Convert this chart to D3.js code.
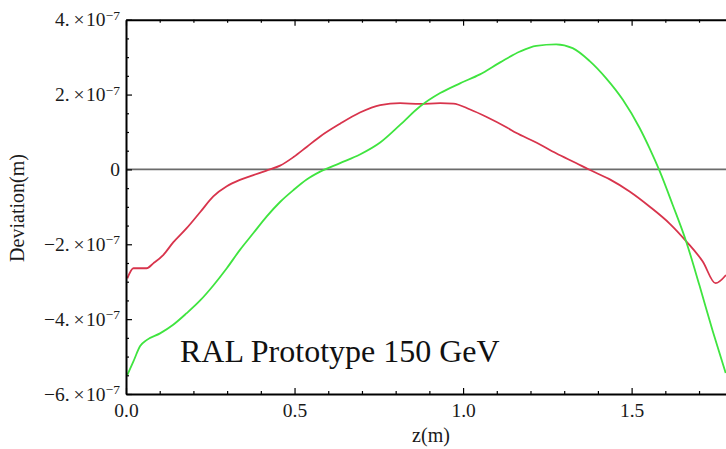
<!DOCTYPE html>
<html><head><meta charset="utf-8">
<script src="https://cdn.jsdelivr.net/npm/d3@7"></script>
<style>body{margin:0;background:#fff}svg{display:block}</style>
</head><body>
<svg id="c" width="726" height="449"></svg>
<script>
// ---- data (deviation in metres, z in metres) ----
const zRed = [0.004,0.022,0.061,0.081,0.111,0.14,0.18,0.221,0.259,0.299,0.338,0.378,0.417,0.457,0.497,0.536,0.576,0.635,0.694,0.754,0.813,0.872,0.932,0.971,1.021,1.07,1.13,1.157,1.217,1.276,1.335,1.375,1.434,1.494,1.553,1.612,1.662,1.711,1.749,1.78];
const devRed = [-2.91e-7,-2.64e-7,-2.64e-7,-2.51e-7,-2.28e-7,-1.95e-7,-1.57e-7,-1.13e-7,-0.72e-7,-0.45e-7,-0.28e-7,-0.15e-7,-0.03e-7,0.10e-7,0.33e-7,0.60e-7,0.88e-7,1.22e-7,1.52e-7,1.72e-7,1.77e-7,1.75e-7,1.77e-7,1.76e-7,1.60e-7,1.40e-7,1.12e-7,0.98e-7,0.72e-7,0.43e-7,0.17e-7,-0.01e-7,-0.26e-7,-0.59e-7,-0.99e-7,-1.44e-7,-1.92e-7,-2.46e-7,-3.04e-7,-2.82e-7];
const zGreen = [0.004,0.022,0.042,0.061,0.101,0.14,0.18,0.22,0.259,0.299,0.338,0.378,0.417,0.457,0.497,0.536,0.576,0.635,0.694,0.754,0.813,0.872,0.932,0.991,1.05,1.11,1.169,1.217,1.276,1.325,1.375,1.424,1.474,1.523,1.553,1.583,1.622,1.662,1.701,1.741,1.779];
const devGreen = [-5.49e-7,-5.13e-7,-4.72e-7,-4.56e-7,-4.38e-7,-4.15e-7,-3.84e-7,-3.50e-7,-3.10e-7,-2.64e-7,-2.15e-7,-1.70e-7,-1.26e-7,-0.87e-7,-0.55e-7,-0.27e-7,-0.06e-7,0.17e-7,0.40e-7,0.72e-7,1.19e-7,1.68e-7,2.04e-7,2.30e-7,2.54e-7,2.86e-7,3.15e-7,3.30e-7,3.34e-7,3.24e-7,2.90e-7,2.44e-7,1.86e-7,1.12e-7,0.57e-7,-0.04e-7,-0.95e-7,-1.93e-7,-3.09e-7,-4.33e-7,-5.44e-7];
const yMajorTicks = [-6e-7,-4e-7,-2e-7,0,2e-7,4e-7];
const yMantissas = ["\u22126.","\u22124.","\u22122.","0","2.","4."];
const xMajorTicks = [0,0.5,1.0,1.5];
const xTickLabels = ["0.0","0.5","1.0","1.5"];
const xLabel = "z(m)";
const yLabel = "Deviation(m)";
const annotation = "RAL Prototype 150 GeV";

// ---- layout ----
const svg = d3.select("#c");
const pLeft = 126, pRight = 726, pTop = 19.7, pBottom = 394;
const x = d3.scaleLinear().domain([0, 1.78]).range([pLeft, pRight]);
const y = d3.scaleLinear().domain([-6e-7, 4e-7]).range([pBottom, pTop]);
const serif = "'Liberation Serif','DejaVu Serif',serif";

// zero line
svg.append("line").attr("x1", pLeft).attr("x2", pRight).attr("y1", y(0)).attr("y2", y(0))
  .attr("stroke", "#6b6b6b").attr("stroke-width", 1.6);

// curves
const line = d3.line().x(d => x(d[0])).y(d => y(d[1])).curve(d3.curveMonotoneX);
svg.append("path").datum(zRed.map((z,i)=>[z,devRed[i]]))
  .attr("d", line).attr("fill","none").attr("stroke","#d8344c").attr("stroke-width",1.8);
svg.append("path").datum(zGreen.map((z,i)=>[z,devGreen[i]]))
  .attr("d", line).attr("fill","none").attr("stroke","#3fe43f").attr("stroke-width",1.8);

function styleAxis(g){
  g.select(".domain").attr("stroke","#000").attr("stroke-width",2);
  g.selectAll(".tick line").attr("stroke","#000").attr("stroke-width",1.2);
  g.selectAll("text").attr("font-family", serif).attr("font-size", 19.5).attr("fill","#1a1a1a");
}
function styleMinor(g){
  g.select(".domain").remove();
  g.selectAll(".tick line").attr("stroke","#000").attr("stroke-width",1.2);
}
const xMinor = d3.range(0, 1.781, 0.1).map(v => +v.toFixed(2)).filter(v => !xMajorTicks.includes(v));
const yMinor = d3.range(-6e-7, 4.01e-7, 0.5e-7).map(v => +v.toExponential(2)).filter(v => !yMajorTicks.some(t => Math.abs(t - v) < 1e-12));

// bottom axis
const gb = svg.append("g").attr("transform", `translate(0,${pBottom})`);
gb.append("g").call(d3.axisBottom(x).tickValues(xMinor).tickSize(-3).tickSizeOuter(0).tickFormat("")).call(styleMinor);
gb.append("g").call(d3.axisBottom(x).tickValues(xMajorTicks).tickSize(-6).tickSizeOuter(0).tickPadding(9)
  .tickFormat((d,i)=>xTickLabels[i])).call(styleAxis);

// top axis (frame)
const gt = svg.append("g").attr("transform", `translate(0,${pTop})`);
gt.append("g").call(d3.axisTop(x).tickValues(xMinor).tickSize(-3).tickSizeOuter(0).tickFormat("")).call(styleMinor);
gt.append("g").call(d3.axisTop(x).tickValues(xMajorTicks).tickSize(-6).tickSizeOuter(0).tickFormat("")).call(styleAxis);

// left axis
const gl = svg.append("g").attr("transform", `translate(${pLeft},0)`);
gl.append("g").call(d3.axisLeft(y).tickValues(yMinor).tickSize(-3).tickSizeOuter(0).tickFormat("")).call(styleMinor);
gl.append("g").call(d3.axisLeft(y).tickValues(yMajorTicks).tickSize(-6).tickSizeOuter(0).tickPadding(6).tickFormat(""))
  .call(styleAxis)
  .call(g => g.selectAll(".tick text").each(function(d,i){
    const t = d3.select(this);
    t.text(null);
    if (d === 0) { t.text(yMantissas[i]); return; }
    t.append("tspan").text(yMantissas[i] + "\u2009\u00d7\u200a10");
    t.append("tspan").attr("dy", "-0.5em").attr("font-size", 13.5).text("\u22127");
  }));

// axis titles
svg.append("text").attr("x", 431).attr("y", 442).attr("text-anchor","middle")
  .attr("font-family", serif).attr("font-size", 20).attr("fill","#1a1a1a").text(xLabel);
svg.append("text").attr("transform","translate(24,208) rotate(-90)").attr("text-anchor","middle")
  .attr("font-family", serif).attr("font-size", 20).attr("fill","#1a1a1a").text(yLabel);

// annotation
svg.append("text").attr("x", 180).attr("y", 362)
  .attr("font-family", serif).attr("font-size", 32).attr("fill","#111").text(annotation);
</script>
</body></html>
